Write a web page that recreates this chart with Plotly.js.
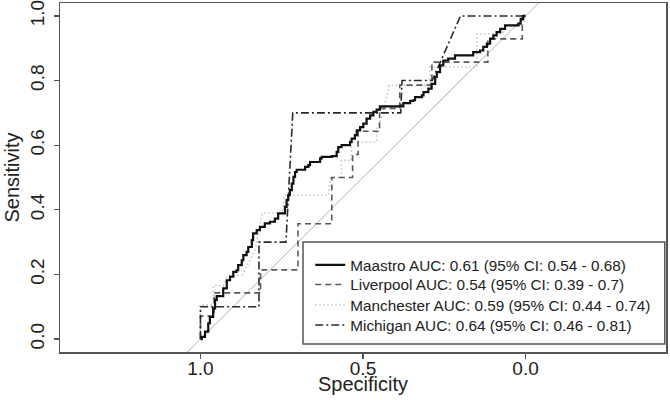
<!DOCTYPE html>
<html>
<head>
<meta charset="utf-8">
<script src="https://cdn.plot.ly/plotly-3.0.1.min.js"></script>
<style>html,body{margin:0;padding:0;background:#fff;}#chart{width:670px;height:400px;}</style>
</head>
<body>
<div id="chart"></div>
<script>
// ---- Data ----
const seriesNames = [
  'Maastro AUC: 0.61 (95% CI: 0.54 - 0.68)',
  'Liverpool AUC: 0.54 (95% CI: 0.39 - 0.7)',
  'Manchester AUC: 0.59 (95% CI: 0.44 - 0.74)',
  'Michigan AUC: 0.64 (95% CI: 0.46 - 0.81)'
];

const maastroSpec = [1.000,0.996,0.986,0.976,0.971,0.961,0.955,0.950,0.935,0.930,0.919,0.909,0.899,0.889,0.884,0.873,0.868,0.858,0.853,0.842,0.838,0.827,0.817,0.802,0.786,0.771,0.761,0.745,0.740,0.735,0.730,0.725,0.719,0.714,0.709,0.704,0.684,0.678,0.668,0.663,0.632,0.627,0.596,0.581,0.576,0.566,0.540,0.535,0.525,0.519,0.509,0.499,0.489,0.478,0.468,0.458,0.448,0.386,0.376,0.355,0.345,0.340,0.319,0.314,0.299,0.289,0.278,0.273,0.263,0.253,0.238,0.217,0.171,0.161,0.140,0.130,0.119,0.109,0.099,0.089,0.078,0.063,0.022,0.015,0.007,0.000];
const maastroSens = [0.000,0.007,0.023,0.049,0.069,0.095,0.121,0.133,0.133,0.157,0.182,0.193,0.208,0.213,0.229,0.244,0.260,0.270,0.285,0.306,0.327,0.337,0.347,0.358,0.363,0.373,0.389,0.389,0.409,0.430,0.445,0.461,0.481,0.502,0.517,0.524,0.524,0.533,0.538,0.548,0.559,0.564,0.566,0.579,0.594,0.600,0.610,0.620,0.631,0.646,0.656,0.667,0.682,0.692,0.703,0.710,0.720,0.720,0.730,0.737,0.739,0.749,0.754,0.764,0.775,0.790,0.811,0.826,0.847,0.862,0.868,0.878,0.878,0.888,0.893,0.904,0.914,0.930,0.940,0.950,0.960,0.971,0.976,0.991,1.000,1.000];

const liverpoolSpec = [1.000,1.000,0.958,0.958,0.815,0.815,0.700,0.700,0.596,0.596,0.532,0.532,0.515,0.515,0.449,0.449,0.387,0.387,0.288,0.288,0.116,0.116,0.010,0.010,0.000];
const liverpoolSens = [0.000,0.071,0.071,0.143,0.143,0.214,0.214,0.357,0.357,0.500,0.500,0.571,0.571,0.643,0.643,0.714,0.714,0.786,0.786,0.857,0.857,0.929,0.929,1.000,1.000];

const manchesterSpec = [1.000,1.000,0.960,0.960,0.930,0.920,0.870,0.850,0.830,0.820,0.810,0.750,0.740,0.607,0.600,0.566,0.566,0.535,0.535,0.458,0.458,0.440,0.430,0.420,0.380,0.294,0.294,0.150,0.150,0.070,0.060,0.010,0.000];
const manchesterSens = [0.000,0.105,0.105,0.165,0.165,0.190,0.200,0.240,0.280,0.330,0.390,0.390,0.445,0.445,0.500,0.500,0.553,0.553,0.610,0.610,0.650,0.690,0.740,0.785,0.785,0.785,0.842,0.842,0.945,0.945,0.970,0.970,1.000];

const michiganSpec = [1.000,1.000,0.820,0.820,0.737,0.716,0.384,0.380,0.287,0.200,0.000];
const michiganSens = [0.000,0.100,0.100,0.300,0.300,0.700,0.700,0.800,0.800,1.000,1.000];

const diagSpec = [1.06, -0.06];
const diagSens = [-0.06, 1.06];

const xTickVals = [1.0, 0.5, 0.0];
const xTickText = ['1.0', '0.5', '0.0'];
const yTickVals = [0.0, 0.2, 0.4, 0.6, 0.8, 1.0];
const yTickText = ['0.0', '0.2', '0.4', '0.6', '0.8', '1.0'];
const xTitle = 'Specificity';
const yTitle = 'Sensitivity';

// ---- Traces ----
const FONT = 'Liberation Sans, Arial, Helvetica, sans-serif';
const traces = [
  {x: diagSpec, y: diagSens, mode: 'lines', showlegend: false, hoverinfo: 'skip',
   line: {color: '#b0b0b0', width: 1}},
  {x: manchesterSpec, y: manchesterSens, mode: 'lines', name: seriesNames[2], legend: 'legend3',
   line: {color: '#c4c4c4', width: 1.6, dash: '1.5px,2.5px'}},
  {x: liverpoolSpec, y: liverpoolSens, mode: 'lines', name: seriesNames[1], legend: 'legend2',
   line: {color: '#5a5a5a', width: 1.6, dash: '6px,4px'}},
  {x: michiganSpec, y: michiganSens, mode: 'lines', name: seriesNames[3], legend: 'legend4',
   line: {color: '#2a2a2a', width: 1.6, dash: '8px,3px,2px,3px'}},
  {x: maastroSpec, y: maastroSens, mode: 'lines', name: seriesNames[0], legend: 'legend',
   line: {color: '#111111', width: 2.2, shape: 'hv'}}
];

const axisCommon = {
  showgrid: false, zeroline: false, showline: true, mirror: true,
  linecolor: '#555', linewidth: 1.5,
  ticks: 'outside', ticklen: 5, tickwidth: 1.2, tickcolor: '#555',
  ticklabeloverflow: 'allow',
  tickfont: {family: FONT, size: 19, color: '#222'}
};

function legendAt(yPaper) {
  return {
    x: 0.413, xanchor: 'left', y: yPaper, yanchor: 'middle',
    bgcolor: 'rgba(0,0,0,0)', borderwidth: 0,
    font: {family: FONT, size: 15.3, color: '#222'},
    itemwidth: 30, tracegroupgap: 0
  };
}

const layout = {
  width: 670, height: 400,
  margin: {l: 60, r: 4, t: 3, b: 48, pad: 0},
  paper_bgcolor: '#fff', plot_bgcolor: '#fff',
  font: {family: FONT, color: '#222'},
  xaxis: Object.assign({}, axisCommon, {
    range: [1.432, -0.432], tickmode: 'array', tickvals: xTickVals, ticktext: xTickText,
    ticklabelstandoff: -6
  }),
  yaxis: Object.assign({}, axisCommon, {
    range: [-0.04, 1.04], tickmode: 'array', tickvals: yTickVals, ticktext: yTickText,
    tickangle: -90, ticklabelstandoff: 2,
    title: {text: yTitle, font: {family: FONT, size: 20, color: '#222'}, standoff: 2}
  }),
  annotations: [{
    text: xTitle, xref: 'paper', yref: 'paper', x: 0.4995, y: -0.092,
    xanchor: 'center', yanchor: 'middle', showarrow: false,
    font: {family: FONT, size: 20, color: '#222'}
  }],
  showlegend: true,
  legend: legendAt(0.2493),
  legend2: legendAt(0.1934),
  legend3: legendAt(0.1347),
  legend4: legendAt(0.0774),
  shapes: [{
    type: 'rect', xref: 'paper', yref: 'paper',
    x0: 0.401, x1: 0.998, y0: 0.023, y1: 0.315,
    line: {color: '#555', width: 1.5}, fillcolor: '#fff', layer: 'above'
  }]
};

Plotly.newPlot('chart', traces, layout, {staticPlot: true, displayModeBar: false});
</script>
</body>
</html>
